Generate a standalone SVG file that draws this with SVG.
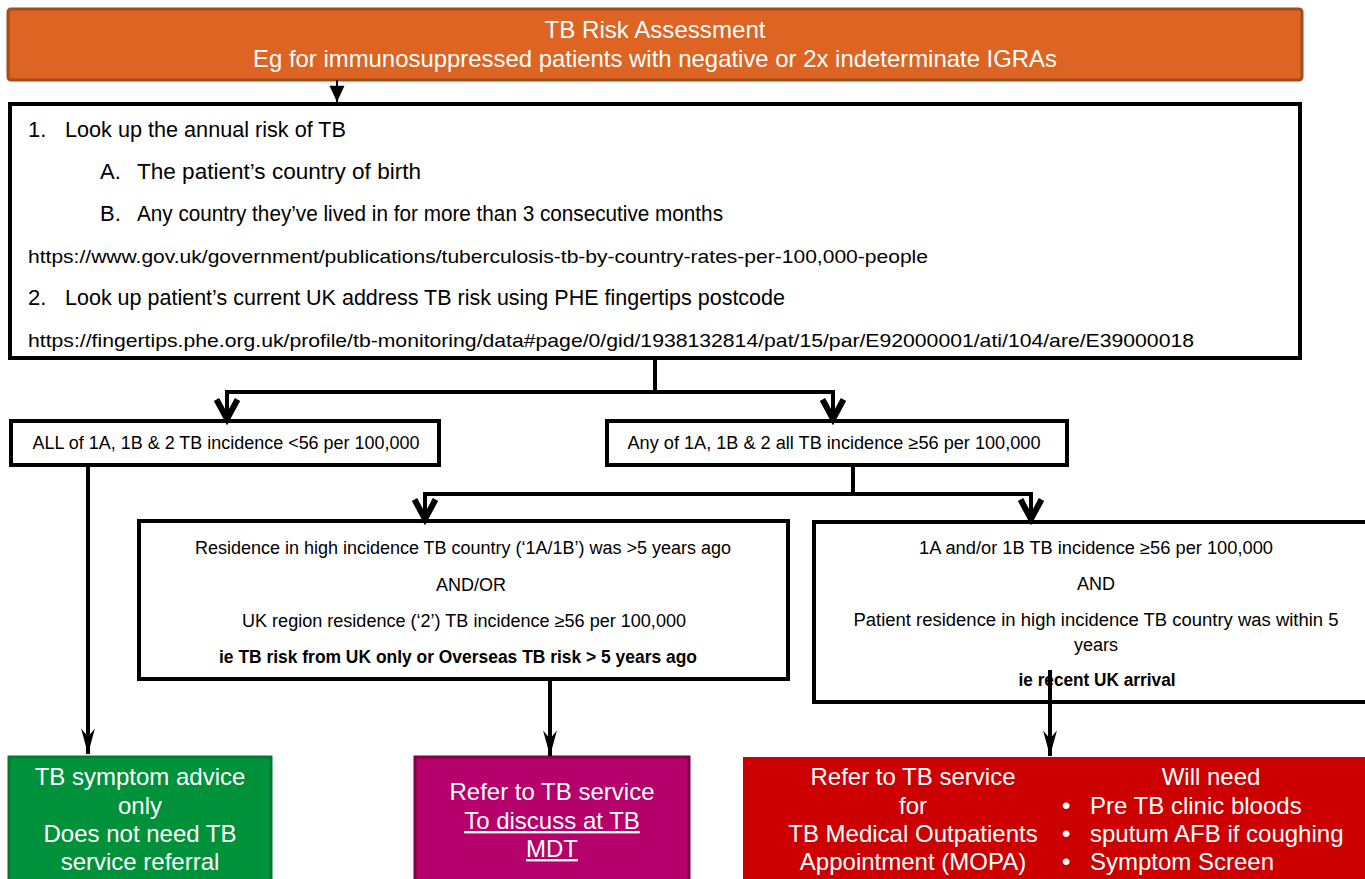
<svg xmlns="http://www.w3.org/2000/svg" width="1365" height="879" viewBox="0 0 1365 879">
<style>
.w{font-family:"Liberation Sans",Arial,sans-serif;font-size:24px;fill:#fff}
.k{font-family:"Liberation Sans",Arial,sans-serif;fill:#000}
.t22{font-size:22px}
.t19{font-size:19px}
.t18{font-size:18px}
.b{font-weight:bold}
.c{text-anchor:middle}
.box{fill:#fff;stroke:#000;stroke-width:4}
.con{fill:none;stroke:#000;stroke-width:4}
</style>
<defs>
<marker id="chev" markerUnits="userSpaceOnUse" markerWidth="30" markerHeight="30" viewBox="-16 -10 20 20" refX="0" refY="0" orient="auto">
<path d="M-13,-7 L0,0 L-13,7" fill="none" stroke="#000" stroke-width="4" stroke-linejoin="miter"/>
</marker>
<marker id="narrow" markerUnits="userSpaceOnUse" markerWidth="30" markerHeight="30" viewBox="-24 -8 26 16" refX="0" refY="0" orient="auto">
<path d="M-22,-6 L0,0 L-22,6 L-15,0 Z" fill="#000"/>
</marker>
<marker id="thin" markerUnits="userSpaceOnUse" markerWidth="20" markerHeight="20" viewBox="-14 -8 16 16" refX="0" refY="0" orient="auto">
<path d="M-13,-6 L0,0 L-13,6 Z" fill="#000"/>
</marker>
</defs>

<g id="node-top">
<rect x="8" y="9" width="1294" height="71" rx="3" fill="#DD6422" stroke="#A84A1B" stroke-width="3"/>
<text class="w c" x="655" y="38" textLength="221" lengthAdjust="spacingAndGlyphs">TB Risk Assessment</text>
<text class="w c" x="655" y="67" textLength="804" lengthAdjust="spacingAndGlyphs">Eg for immunosuppressed patients with negative or 2x indeterminate IGRAs</text>
</g>

<g id="node-lookup">
<rect class="box" x="10" y="104" width="1290" height="254"/>
<text class="k t22" x="28" y="137">1.</text>
<text class="k t22" x="65" y="137" textLength="281" lengthAdjust="spacingAndGlyphs">Look up the annual risk of TB</text>
<text class="k t22" x="100" y="179">A.</text>
<text class="k t22" x="137" y="179" textLength="284" lengthAdjust="spacingAndGlyphs">The patient’s country of birth</text>
<text class="k t22" x="100" y="221">B.</text>
<text class="k t22" x="137" y="221" textLength="586" lengthAdjust="spacingAndGlyphs">Any country they’ve lived in for more than 3 consecutive months</text>
<text class="k t19" x="28" y="263" textLength="900" lengthAdjust="spacingAndGlyphs">https://www.gov.uk/government/publications/tuberculosis-tb-by-country-rates-per-100,000-people</text>
<text class="k t22" x="28" y="305">2.</text>
<text class="k t22" x="65" y="305" textLength="720" lengthAdjust="spacingAndGlyphs">Look up patient’s current UK address TB risk using PHE fingertips postcode</text>
<text class="k t19" x="28" y="347" textLength="1166" lengthAdjust="spacingAndGlyphs">https://fingertips.phe.org.uk/profile/tb-monitoring/data#page/0/gid/1938132814/pat/15/par/E92000001/ati/104/are/E39000018</text>
</g>

<g id="node-low">
<rect class="box" x="11" y="421" width="428" height="44"/>
<text class="k t18 c" x="226" y="449" textLength="387" lengthAdjust="spacingAndGlyphs">ALL of 1A, 1B &amp; 2 TB incidence &lt;56 per 100,000</text>
</g>

<g id="node-high">
<rect class="box" x="607" y="421" width="460" height="44"/>
<text class="k t18 c" x="834" y="449" textLength="413" lengthAdjust="spacingAndGlyphs">Any of 1A, 1B &amp; 2 all TB incidence ≥56 per 100,000</text>
</g>

<g id="node-old">
<rect class="box" x="139" y="521" width="649" height="158"/>
<text class="k t18 c" x="463" y="554" textLength="536" lengthAdjust="spacingAndGlyphs">Residence in high incidence TB country (‘1A/1B’) was &gt;5 years ago</text>
<text class="k t18 c" x="471" y="591">AND/OR</text>
<text class="k t18 c" x="464" y="627" textLength="444" lengthAdjust="spacingAndGlyphs">UK region residence (‘2’) TB incidence ≥56 per 100,000</text>
<text class="k t18 b c" x="458" y="663" textLength="478" lengthAdjust="spacingAndGlyphs">ie TB risk from UK only or Overseas TB risk &gt; 5 years ago</text>
</g>

<g id="node-recent">
<rect class="box" x="814" y="522" width="560" height="180"/>
<text class="k t18 c" x="1096" y="554" textLength="354" lengthAdjust="spacingAndGlyphs">1A and/or 1B TB incidence ≥56 per 100,000</text>
<text class="k t18 c" x="1096" y="590">AND</text>
<text class="k t18 c" x="1096" y="626" textLength="485" lengthAdjust="spacingAndGlyphs">Patient residence in high incidence TB country was within 5</text>
<text class="k t18 c" x="1096" y="651">years</text>
<text class="k t18 b c" x="1097" y="686" textLength="157" lengthAdjust="spacingAndGlyphs">ie recent UK arrival</text>
</g>

<g id="node-green">
<rect x="9" y="757" width="262" height="130" fill="#00923A" stroke="#007A30" stroke-width="3"/>
<text class="w c" x="140" y="785">TB symptom advice</text>
<text class="w c" x="140" y="814">only</text>
<text class="w c" x="140" y="842">Does not need TB</text>
<text class="w c" x="140" y="870">service referral</text>
</g>

<g id="node-mdt">
<rect x="415" y="757" width="274" height="130" fill="#B6006B" stroke="#7F0047" stroke-width="3"/>
<text class="w c" x="552" y="800">Refer to TB service</text>
<text class="w c" x="552" y="829" text-decoration="underline">To discuss at TB</text>
<text class="w c" x="552" y="857" text-decoration="underline">MDT</text>
</g>

<g id="node-mopa">
<rect x="743" y="757" width="640" height="130" fill="#CC0000"/>
<text class="w c" x="913" y="785">Refer to TB service</text>
<text class="w c" x="913" y="814">for</text>
<text class="w c" x="913" y="842">TB Medical Outpatients</text>
<text class="w c" x="913" y="870">Appointment (MOPA)</text>
<text class="w c" x="1211" y="785">Will need</text>
<text class="w" x="1062" y="814">•</text>
<text class="w" x="1090" y="814">Pre TB clinic bloods</text>
<text class="w" x="1062" y="842">•</text>
<text class="w" x="1090" y="842">sputum AFB if coughing</text>
<text class="w" x="1062" y="870">•</text>
<text class="w" x="1090" y="870">Symptom Screen</text>
</g>

<g id="connectors">
<line x1="337" y1="80" x2="337" y2="102" stroke="#000" stroke-width="2" marker-end="url(#thin)"/>
<path class="con" d="M655,358 V392"/>
<path class="con" d="M655,392 H227 V419" marker-end="url(#chev)"/>
<path class="con" d="M655,392 H833 V419" marker-end="url(#chev)"/>
<path class="con" d="M853,465 V494"/>
<path class="con" d="M853,494 H425 V519" marker-end="url(#chev)"/>
<path class="con" d="M853,494 H1031 V519" marker-end="url(#chev)"/>
<line x1="88" y1="465" x2="88" y2="754" stroke="#000" stroke-width="4" marker-end="url(#narrow)"/>
<line x1="550" y1="680" x2="550" y2="756" stroke="#000" stroke-width="4" marker-end="url(#narrow)"/>
<line x1="1050" y1="670" x2="1050" y2="756" stroke="#000" stroke-width="4" marker-end="url(#narrow)"/>
</g>
</svg>
